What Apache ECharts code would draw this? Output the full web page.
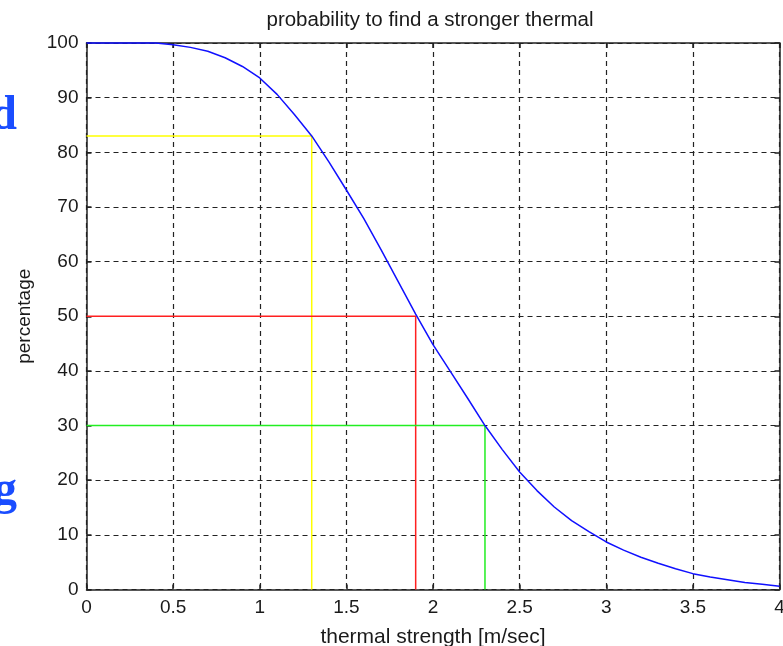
<!DOCTYPE html>
<html>
<head>
<meta charset="utf-8">
<title>probability to find a stronger thermal</title>
<script src="https://cdn.jsdelivr.net/npm/echarts@6/dist/echarts.min.js"></script>
<style>
  html, body { margin: 0; padding: 0; background: #ffffff; }
  #chart { width: 783px; height: 646px; }
</style>
</head>
<body>
<div id="chart"></div>
<script>
// Thermal strength (m/s) and the share of thermals stronger than that value (%)
const strengthValues = [0.0, 0.1, 0.2, 0.3, 0.4, 0.5, 0.6, 0.7, 0.8, 0.9,
                        1.0, 1.1, 1.2, 1.3, 1.4, 1.5, 1.6, 1.7, 1.8, 1.9,
                        2.0, 2.1, 2.2, 2.3, 2.4, 2.5, 2.6, 2.7, 2.8, 2.9,
                        3.0, 3.1, 3.2, 3.3, 3.4, 3.5, 3.6, 3.7, 3.8, 3.9, 4.0];
const percentValues = [100, 100, 100, 100, 100, 99.7, 99.2, 98.5, 97.3, 95.7,
                       93.6, 90.6, 86.9, 83.0, 78.2, 73.1, 67.9, 62.2, 56.3, 50.4,
                       44.8, 39.9, 35.0, 30.0, 25.6, 21.5, 18.1, 15.1, 12.6, 10.6,
                       8.7, 7.2, 5.9, 4.8, 3.8, 2.9, 2.3, 1.8, 1.3, 0.95, 0.6];

// Read-off guides: strength at which a given percentage is reached
const guideStrengths = [1.3, 1.9, 2.3];
const guidePercents = [83, 50, 30];
const guideColors = ['#ffff00', '#ff2020', '#22ee22'];

// Axis ticks
const xTicks = [0, 0.5, 1, 1.5, 2, 2.5, 3, 3.5, 4];
const yTicks = [0, 10, 20, 30, 40, 50, 60, 70, 80, 90, 100];

// Fragments of the surrounding slide text
const sideLetters = ['d', 'g'];

const textFont = 'Liberation Sans';
const inkColor = '#1a1a1a';

const curveData = strengthValues.map((x, i) => [x, percentValues[i]]);

const guideSeries = guideStrengths.map((s, i) => ({
  type: 'line',
  data: [[xTicks[0], guidePercents[i]], [s, guidePercents[i]], [s, yTicks[0]]],
  symbol: 'none',
  clip: false,
  lineStyle: { color: guideColors[i], width: 1.5 },
  z: 3,
  silent: true
}));

const xStep = xTicks[1] - xTicks[0];
const yStep = yTicks[1] - yTicks[0];

const baseX = {
  type: 'value',
  min: xTicks[0],
  max: xTicks[xTicks.length - 1],
  interval: xStep
};
const baseY = {
  type: 'value',
  min: yTicks[0],
  max: yTicks[yTicks.length - 1],
  interval: yStep
};

const axisLineStyle = { color: '#222222', width: 1.5 };
const gridDash = { color: '#222222', width: 1.2, type: [5, 4] };

const chart = echarts.init(document.getElementById('chart'), null, { renderer: 'canvas' });

chart.setOption({
  animation: false,
  backgroundColor: '#ffffff',
  grid: {
    left: 86.5, right: 3.5, top: 43, bottom: 56.5,
    containLabel: false,
    outerBoundsMode: 'none'
  },
  xAxis: [
    Object.assign({}, baseX, {
      position: 'bottom',
      name: 'thermal strength [m/sec]',
      nameLocation: 'middle',
      nameGap: 37,
      nameTextStyle: { fontFamily: textFont, fontSize: 21, color: inkColor },
      axisLine: { show: true, lineStyle: axisLineStyle },
      axisTick: { show: true, inside: true, length: 5, lineStyle: axisLineStyle },
      axisLabel: { show: true, margin: 9, fontFamily: textFont, fontSize: 19, color: inkColor },
      splitLine: { show: true, lineStyle: gridDash }
    }),
    Object.assign({}, baseX, {
      position: 'top',
      axisLine: { show: true, onZero: false, lineStyle: axisLineStyle },
      axisTick: { show: true, inside: true, length: 5, lineStyle: axisLineStyle },
      axisLabel: { show: false },
      splitLine: { show: false }
    })
  ],
  yAxis: [
    Object.assign({}, baseY, {
      position: 'left',
      name: 'percentage',
      nameLocation: 'middle',
      nameGap: 52,
      nameRotate: 90,
      nameTextStyle: { fontFamily: textFont, fontSize: 19, color: inkColor },
      axisLine: { show: true, lineStyle: axisLineStyle },
      axisTick: { show: true, inside: true, length: 5, lineStyle: axisLineStyle },
      axisLabel: { show: true, margin: 8, fontFamily: textFont, fontSize: 19, color: inkColor },
      splitLine: { show: true, lineStyle: gridDash }
    }),
    Object.assign({}, baseY, {
      position: 'right',
      axisLine: { show: true, onZero: false, lineStyle: axisLineStyle },
      axisTick: { show: true, inside: true, length: 5, lineStyle: axisLineStyle },
      axisLabel: { show: false },
      splitLine: { show: false }
    })
  ],
  series: [
    {
      type: 'line',
      data: curveData,
      symbol: 'none',
      clip: false,
      smooth: false,
      lineStyle: { color: '#1010ff', width: 1.5 },
      z: 4,
      silent: true
    }
  ].concat(guideSeries),
  graphic: [
    {
      type: 'text',
      style: {
        text: 'probability to find a stronger thermal',
        x: 430, y: 20,
        font: '20.5px "Liberation Sans"',
        fill: inkColor,
        align: 'center',
        verticalAlign: 'middle'
      }
    },
    {
      type: 'text',
      style: {
        text: sideLetters[0],
        x: 17, y: 117,
        font: 'bold 48px "Liberation Serif"',
        fill: '#1a4dff',
        align: 'right',
        verticalAlign: 'middle'
      }
    },
    {
      type: 'text',
      style: {
        text: sideLetters[1],
        x: 17, y: 492,
        font: 'bold 48px "Liberation Serif"',
        fill: '#1a4dff',
        align: 'right',
        verticalAlign: 'middle'
      }
    }
  ]
});
</script>
</body>
</html>
